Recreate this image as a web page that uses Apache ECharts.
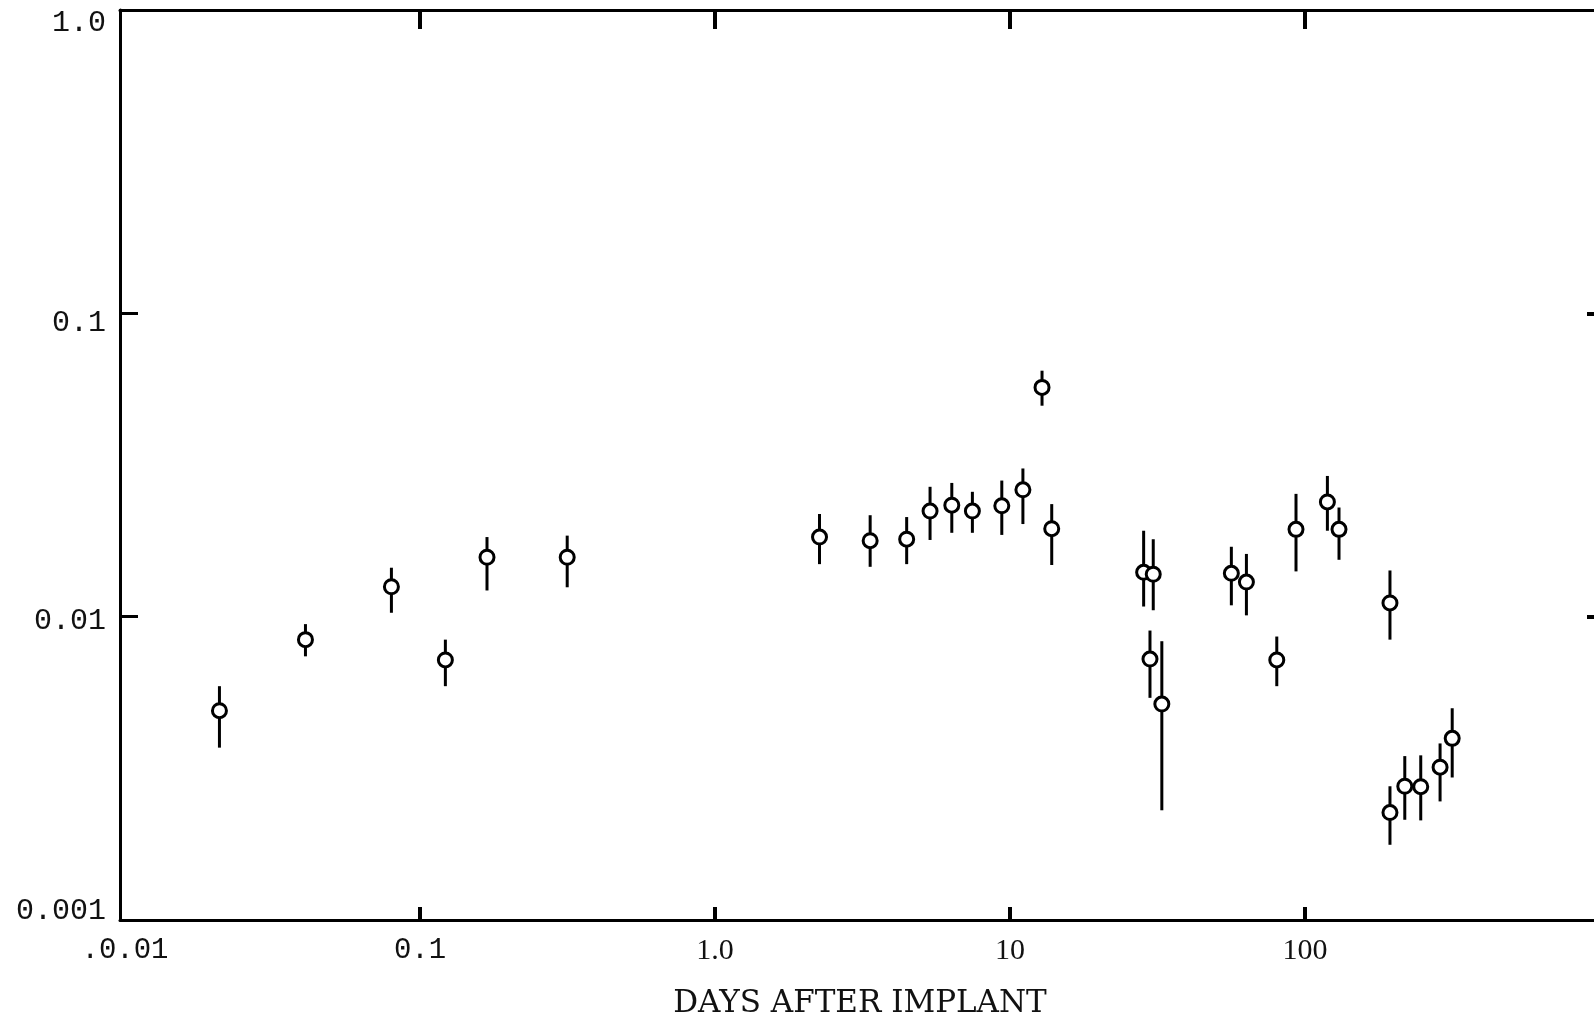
<!DOCTYPE html>
<html lang="en">
<head>
	<meta charset="utf-8">
	<title>Days after implant</title>
	<script src="https://cdn.jsdelivr.net/npm/echarts@6/dist/echarts.min.js"></script>
	<style type="text/css">
		html, body {margin:0;padding:0;background:#fff}
		#chart {width:1594px;height:1015px}
	</style>
</head>
<body>
	<div id="chart"></div>
	<script>
		// values (days, central value, top and bottom of error bar)
		var days     = [0.0209, 0.0409, 0.0800, 0.1219, 0.1687, 0.3155,
		                2.261, 3.357, 4.464, 5.358, 6.349, 7.456, 9.380, 11.06, 12.84, 13.85,
		                28.38, 30.59, 29.82, 32.71, 56.28, 63.30, 80.23, 93.22, 119.1, 130.4,
		                194.1, 194.1, 217.9, 246.8, 287.0, 315.5];
		var frac     = [0.0049, 0.0084, 0.01255, 0.0072, 0.0157, 0.0157,
		                0.0183, 0.0178, 0.0180, 0.0223, 0.0233, 0.0223, 0.0232, 0.0262, 0.0570, 0.0195,
		                0.0140, 0.0138, 0.00725, 0.00515, 0.0139, 0.0130, 0.0072, 0.0194, 0.0239, 0.0194,
		                0.0111, 0.00226, 0.00276, 0.00275, 0.00319, 0.00397];
		var fracHigh = [0.0059, 0.00945, 0.0145, 0.0084, 0.0183, 0.0185,
		                0.0218, 0.0216, 0.0213, 0.0268, 0.0276, 0.0258, 0.0281, 0.0308, 0.0647, 0.0235,
		                0.0192, 0.0180, 0.0090, 0.0083, 0.0170, 0.0161, 0.0086, 0.0254, 0.0291, 0.0229,
		                0.0142, 0.00276, 0.00347, 0.00349, 0.00382, 0.00499];
		var fracLow  = [0.0037, 0.0074, 0.0103, 0.0059, 0.0122, 0.0125,
		                0.0149, 0.0146, 0.0149, 0.0179, 0.0189, 0.0189, 0.0186, 0.0202, 0.0496, 0.0148,
		                0.0108, 0.0105, 0.0054, 0.0023, 0.0109, 0.0101, 0.0059, 0.0141, 0.0192, 0.0154,
		                0.0084, 0.00177, 0.00214, 0.00213, 0.00246, 0.00295];

		// tick positions and labels
		var xLabelValues = [0.01, 0.1, 1, 10, 100];
		var xTickValues  = [0.1, 1, 10, 100];
		var xTickText    = ['{m|.0.01}', '{m|0.1}', '{s|1.0}', '{s|10}', '{s|100}'];
		var yLabelValues = [0.001, 0.01, 0.1, 1];
		var yTickValues  = [0.01, 0.1];
		var yTickText    = ['{d|0.001}', '{c|0.01}', '{b|0.1}', '{a|1.0}'];

		function pickLabel(values, texts, v) {
			for (var k = 0; k < values.length; k++) {
				if (Math.abs(Math.log10(v) - Math.log10(values[k])) < 0.005) return texts[k];
			}
			return '';
		}

		var points = [];
		var bars = [];
		for (var i = 0; i < days.length; i++) {
			points.push([days[i], frac[i]]);
			bars.push([days[i], fracLow[i], fracHigh[i]]);
		}

		var myChart = echarts.init(document.getElementById("chart"));

		var decadeX = 295;
		var xMin = Math.pow(10, -2 - 5 / decadeX);
		var yFont = {fontFamily: 'Liberation Mono', fontSize: 30, color: '#111'};

		var option = {
			backgroundColor: '#fff',
			animation: false,
			grid: {left: 120, top: 10, width: 1480, height: 910, outerBoundsMode: 'none', containLabel: false},
			xAxis: [
				{
					type: 'log', logBase: 10, min: xMin, max: 1000,
					position: 'bottom',
					name: 'DAYS AFTER IMPLANT',
					nameLocation: 'middle',
					nameGap: 68,
					nameTextStyle: {fontFamily: 'DejaVu Serif', fontSize: 31, color: '#111'},
					axisLine: {lineStyle: {color: '#000', width: 3}},
					axisTick: {inside: true, length: 13, customValues: xTickValues, lineStyle: {color: '#000', width: 4}},
					splitLine: {show: false},
					axisLabel: {
						margin: 16,
						customValues: xLabelValues,
						formatter: function (v) { return pickLabel(xLabelValues, xTickText, v); },
						rich: {
							m: {fontFamily: 'Liberation Mono', fontSize: 29, color: '#111'},
							s: {fontFamily: 'Liberation Serif', fontSize: 30, color: '#111'}
						}
					}
				},
				{
					type: 'log', logBase: 10, min: xMin, max: 1000,
					position: 'top',
					axisLine: {lineStyle: {color: '#000', width: 3}},
					axisTick: {inside: true, length: 19, customValues: xTickValues, lineStyle: {color: '#000', width: 4}},
					axisLabel: {show: false},
					splitLine: {show: false}
				}
			],
			yAxis: [
				{
					type: 'log', logBase: 10, min: 0.001, max: 1,
					position: 'left',
					axisLine: {lineStyle: {color: '#000', width: 3}},
					axisTick: {inside: true, length: 18, customValues: yTickValues, lineStyle: {color: '#000', width: 3}},
					splitLine: {show: false},
					axisLabel: {
						margin: 14,
						customValues: yLabelValues,
						formatter: function (v) { return pickLabel(yLabelValues, yTickText, v); },
						rich: {
							a: Object.assign({padding: [27, 0, 0, 0]}, yFont),
							b: Object.assign({padding: [19, 0, 0, 0]}, yFont),
							c: Object.assign({padding: [8, 0, 0, 0]}, yFont),
							d: Object.assign({padding: [0, 0, 18, 0]}, yFont)
						}
					}
				},
				{
					type: 'log', logBase: 10, min: 0.001, max: 1,
					position: 'right',
					axisLine: {lineStyle: {color: '#000', width: 3}},
					axisTick: {inside: true, length: 13, customValues: yTickValues, lineStyle: {color: '#000', width: 4}},
					axisLabel: {show: false},
					splitLine: {show: false}
				}
			],
			series: [
				{
					type: 'custom',
					data: bars,
					encode: {x: 0, y: [1, 2]},
					z: 2,
					renderItem: function (params, api) {
						var x = api.value(0);
						var p1 = api.coord([x, api.value(1)]);
						var p2 = api.coord([x, api.value(2)]);
						return {
							type: 'line',
							shape: {x1: p1[0], y1: p1[1], x2: p2[0], y2: p2[1]},
							style: {stroke: '#000', lineWidth: 3}
						};
					}
				},
				{
					type: 'scatter',
					data: points,
					z: 3,
					symbol: 'circle',
					symbolSize: 14,
					itemStyle: {color: '#fff', borderColor: '#000', borderWidth: 3, opacity: 1}
				}
			]
		};

		myChart.setOption(option);
	</script>
</body>
</html>
